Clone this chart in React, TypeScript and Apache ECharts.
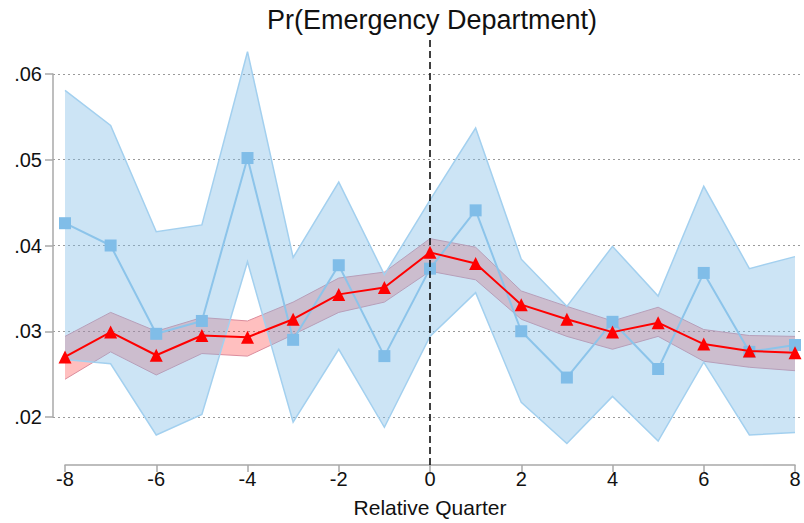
import React, { useEffect, useRef } from 'react';
import * as echarts from 'echarts';

const quarters = [-8, -7, -6, -5, -4, -3, -2, -1, 0, 1, 2, 3, 4, 5, 6, 7, 8];

// blue series (squares) with its confidence band
const blueValues = [0.0426, 0.0400, 0.0297, 0.0312, 0.0502, 0.0290, 0.0377, 0.0271, 0.0373, 0.0441, 0.0300, 0.0246, 0.0311, 0.0256, 0.0368, 0.0276, 0.0284];
const blueUpper = [0.0581, 0.0540, 0.0416, 0.0424, 0.0626, 0.0386, 0.0474, 0.0366, 0.0453, 0.0537, 0.0384, 0.0329, 0.0399, 0.0341, 0.0469, 0.0373, 0.0387];
const blueLower = [0.0267, 0.0262, 0.0179, 0.0203, 0.0381, 0.0194, 0.0279, 0.0188, 0.0294, 0.0345, 0.0217, 0.0169, 0.0224, 0.0172, 0.0264, 0.0179, 0.0182];

// red series (triangles) with its confidence band
const redValues = [0.0270, 0.0299, 0.0272, 0.0295, 0.0293, 0.0314, 0.0343, 0.0351, 0.0392, 0.0379, 0.0331, 0.0314, 0.0299, 0.0310, 0.0285, 0.0277, 0.0275];
const redUpper = [0.0294, 0.0322, 0.0300, 0.0316, 0.0312, 0.0334, 0.0362, 0.0369, 0.0408, 0.0398, 0.0347, 0.0329, 0.0312, 0.0328, 0.0302, 0.0295, 0.0294];
const redLower = [0.0244, 0.0276, 0.0249, 0.0274, 0.0271, 0.0296, 0.0322, 0.0334, 0.0370, 0.0360, 0.0314, 0.0294, 0.0279, 0.0294, 0.0265, 0.0258, 0.0254];

const yMin = 0.02;
const yMax = 0.06;
const yStep = 0.01;
const xMin = -8;
const xMax = 8;
const xStep = 2;
const eventQuarter = 0;

const titleText = 'Pr(Emergency Department)';
const xAxisTitle = 'Relative Quarter';

const FONT = "'Liberation Sans', Arial, sans-serif";

function bandSeries(lower: number[], upper: number[], fill: string, stroke: string, strokeWidth: number, z: number) {
  return {
    type: 'custom',
    xAxisIndex: 1,
    yAxisIndex: 1,
    z,
    silent: true,
    data: quarters.map((q, i) => [q, lower[i], upper[i]]),
    encode: { x: 0, y: [1, 2] },
    renderItem: (params: any, api: any) => {
      if (params.dataIndex !== 0) return null;
      const top = quarters.map((q, i) => api.coord([q, upper[i]]));
      const bot = quarters.map((q, i) => api.coord([q, lower[i]]));
      const poly = top.concat(bot.slice().reverse());
      return {
        type: 'group',
        children: [
          { type: 'polygon', shape: { points: poly }, style: { fill, stroke: 'none' } },
          { type: 'polyline', shape: { points: top }, style: { fill: 'none', stroke, lineWidth: strokeWidth } },
          { type: 'polyline', shape: { points: bot }, style: { fill: 'none', stroke, lineWidth: strokeWidth } },
        ],
      };
    },
  };
}

export default function App() {
  const ref = useRef<HTMLDivElement>(null);

  useEffect(() => {
    if (!ref.current) return;
    const chart = echarts.init(ref.current, null, { renderer: 'svg' });

    const W = 804, H = 523;
    const yTopPx = 74, yBotPx = 417; // .06 and .02
    const dataTopPx = 39, xAxisPx = 465;
    const pxPerUnit = (yBotPx - yTopPx) / (yMax - yMin);
    const dataYMin = yMin - (xAxisPx - yBotPx) / pxPerUnit;
    const dataYMax = yMax + (yTopPx - dataTopPx) / pxPerUnit;

    const pair = (arr: number[]) => quarters.map((q, i) => [q, arr[i]]);

    const option: any = {
      animation: false,
      backgroundColor: '#ffffff',
      title: {
        text: titleText,
        left: 427,
        top: 1,
        textAlign: 'center',
        textStyle: { fontFamily: FONT, fontSize: 27, fontWeight: 'normal', color: '#111' },
      },
      grid: [
        { left: 53, right: W - 800, top: yTopPx, bottom: H - yBotPx, containLabel: false },
        { left: 65, right: W - 795, top: dataTopPx, bottom: H - xAxisPx, containLabel: false },
      ],
      xAxis: [
        { type: 'value', gridIndex: 0, min: 0, max: 1, show: false },
        {
          type: 'value', gridIndex: 1, min: xMin, max: xMax, interval: xStep,
          axisLine: { show: true, lineStyle: { color: '#a8a8a8', width: 1.5 } },
          axisTick: { show: true, length: 7, lineStyle: { color: '#a8a8a8', width: 1.5 } },
          axisLabel: { fontFamily: FONT, fontSize: 20, color: '#111', margin: 4 },
          splitLine: { show: false },
          name: xAxisTitle,
          nameLocation: 'middle',
          nameGap: 32,
          nameTextStyle: { fontFamily: FONT, fontSize: 21, color: '#111' },
        },
      ],
      yAxis: [
        {
          type: 'value', gridIndex: 0, min: yMin, max: yMax, interval: yStep,
          axisLine: { show: true, lineStyle: { color: '#a8a8a8', width: 1.5 } },
          axisTick: { show: true, length: 8, lineStyle: { color: '#a8a8a8', width: 1.5 } },
          axisLabel: {
            fontFamily: FONT, fontSize: 20, color: '#111', margin: 11,
            formatter: (v: number) => v.toFixed(2).replace(/^0/, ''),
          },
          splitLine: { show: true, lineStyle: { color: '#9a9a9a', width: 1, type: [2, 3] } },
        },
        { type: 'value', gridIndex: 1, min: dataYMin, max: dataYMax, show: false, splitLine: { show: false } },
      ],
      series: [
        bandSeries(redLower, redUpper, 'rgba(255,0,0,0.25)', '#dc8c9c', 1, 2),
        bandSeries(blueLower, blueUpper, 'rgba(128,188,230,0.4)', '#a3d0ef', 1.5, 3),
        {
          type: 'line', xAxisIndex: 1, yAxisIndex: 1, data: pair(blueValues),
          symbol: 'rect', symbolSize: 12,
          itemStyle: { color: '#80bde8' },
          lineStyle: { color: '#8cc4ea', width: 2 }, z: 4,
          markLine: {
            silent: true, symbol: 'none', label: { show: false },
            lineStyle: { color: '#000', width: 1.5, type: [7, 4] },
            data: [{ xAxis: eventQuarter }],
          },
        },
        {
          type: 'line', xAxisIndex: 1, yAxisIndex: 1, data: pair(redValues),
          symbol: 'triangle', symbolSize: 13,
          itemStyle: { color: '#ff0000' },
          lineStyle: { color: '#ff0000', width: 2 }, z: 5,
        },
      ],
    };

    chart.setOption(option);
    return () => chart.dispose();
  }, []);

  return (
    <div
      ref={ref}
      style={{ position: 'fixed', left: 0, top: 0, width: 804, height: 523, background: '#fff' }}
    />
  );
}
